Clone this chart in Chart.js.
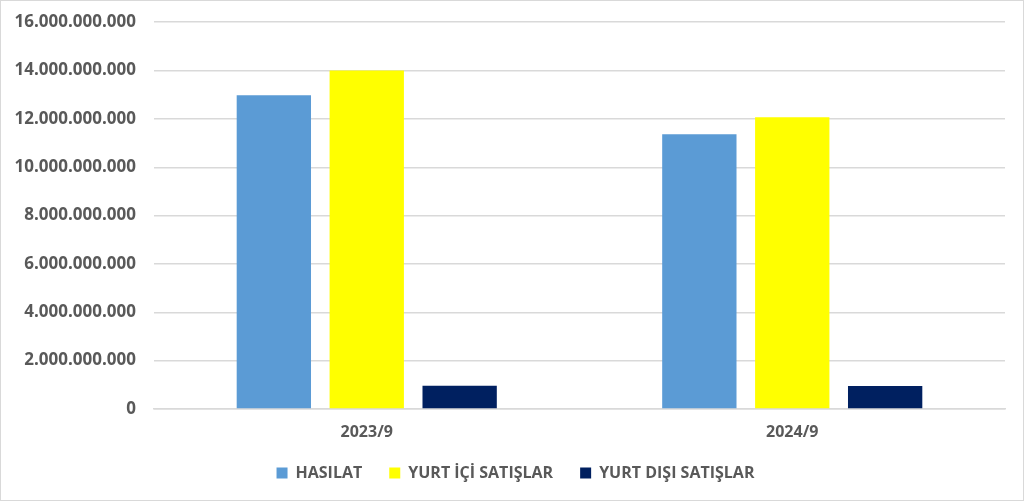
<!DOCTYPE html>
<html><head><meta charset="utf-8">
<script src="https://cdn.jsdelivr.net/npm/chart.js@4"></script>
<style>
html,body{margin:0;padding:0;background:#fff;}
#wrap{position:absolute;left:0;top:0;width:1022px;height:499px;border:1px solid #d9d9d9;overflow:hidden;}
#c{position:absolute;left:0;top:-7px;}
</style></head><body>
<div id="wrap"><canvas id="c" width="1022" height="506"></canvas></div>
<script>
const categories = ["2023/9", "2024/9"];
const seriesNames = ["HASILAT", "YURT İÇİ SATIŞLAR", "YURT DIŞI SATIŞLAR"];
const hasilat = [12980000000, 11370000000];
const yurtIci = [14000000000, 12070000000];
const yurtDisi = [960000000, 950000000];
const yTicks = [0, 2000000000, 4000000000, 6000000000, 8000000000, 10000000000, 12000000000, 14000000000, 16000000000];
const colors = ["#5b9bd5", "#ffff00", "#002060"];

function fmt(v){ return String(Math.round(v)).replace(/\B(?=(\d{3})+(?!\d))/g, "."); }

const fam = "'Open Sans', 'Liberation Sans', sans-serif";
const legendShift = {
  id: "legendShift",
  afterLayout(chart) { if (chart.legend) { chart.legend.left += 7; chart.legend.right += 7; } }
};
new Chart(document.getElementById("c"), {
  type: "bar",
  data: {
    labels: categories,
    datasets: [hasilat, yurtIci, yurtDisi].map((d, i) => ({
      label: seriesNames[i], data: d, backgroundColor: colors[i], borderWidth: 0,
      categoryPercentage: 0.655, barPercentage: 0.8
    }))
  },
  plugins: [legendShift],
  options: {
    responsive: false, animation: false,
    layout: {padding: {left: 11, right: 18, top: 0, bottom: 9}},
    plugins: {
      legend: {position: "bottom",
        labels: {boxWidth: 11, boxHeight: 11, color: "#595959", font: {family: fam, weight: "bold", size: 16}, padding: 27}},
      tooltip: {enabled: false}
    },
    scales: {
      y: {min: 0, max: 16000000000,
        afterBuildTicks: s => { s.ticks = yTicks.map(v => ({value: v})); },
        afterFit: s => { s.width = 142; },
        ticks: {color: "#595959", font: {family: fam, weight: "bold", size: 17}, padding: 18, callback: v => fmt(v)},
        grid: {color: "#d9d9d9", lineWidth: 1.5, drawTicks: false},
        border: {display: false}
      },
      x: {
        afterFit: s => { s.height = 29; },
        ticks: {color: "#595959", font: {family: fam, weight: "bold", size: 16}, padding: 14},
        grid: {display: false, drawTicks: false},
        border: {display: true, color: "#d9d9d9", width: 1.5}
      }
    }
  }
});
</script></body></html>
